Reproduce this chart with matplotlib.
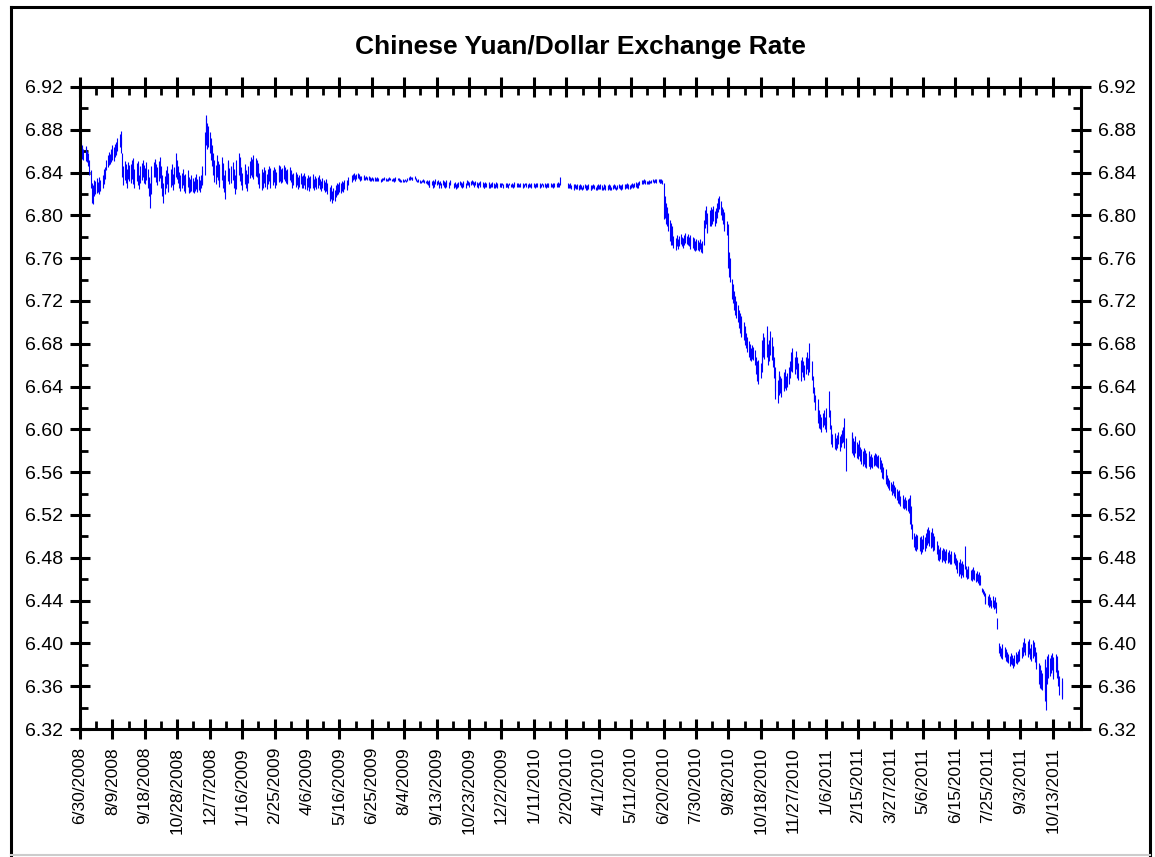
import numpy as np
import pandas as pd
import matplotlib
matplotlib.use("Agg")
import matplotlib.pyplot as plt
import matplotlib.dates as mdates
from matplotlib.lines import Line2D
from matplotlib.ticker import MultipleLocator, FixedLocator

plt.rcParams['font.family'] = ['Liberation Sans', 'DejaVu Sans']

# daily high/low quotes, thousandths above 6.000 ("hi/lo"), one string per month,
# one token per weekday of that month; "-" means no quote that day
hl_2008 = [  # Jun..Dec
    "866/855",
    "868/858 864/853 866/855 862/852 865/856 863/851 860/850 858/846 852/838 842/826 830/812 828/811 833/818 832/820 835/821 831/822 834/820 836/822 833/823 838/826 840/829 843/832 845/834",
    "852/842 856/845 859/847 857/848 862/850 866/852 864/851 867/855 869/858 866/856 872/860 876/864 879/866 873/858 858/836 846/828 851/833 848/830 843/826 850/834 847/832",
    "848/830 852/834 854/836 846/829 843/826 849/832 851/835 845/828 838/825 846/830 849/833 852/836 847/830 844/829 850/833 843/826 836/818 830/807 838/820 846/830 850/836 853/838",
    "852/836 848/831 845/828 851/832 855/835 846/826 838/818 830/812 837/820 842/826 846/829 840/824 836/822 843/827 848/831 844/828 839/824 845/829 858/836 852/834 846/830 841/826 838/823",
    "840/826 843/828 838/823 835/821 839/824 842/827 836/822 833/821 834/822 838/823 835/822 832/821 836/823 839/825 834/822 837/824 833/822 838/826 846/830 842/828",
    "878/838 894/868 891/866 886/862 884/864 878/858 872/852 866/846 858/838 852/831 847/829 856/836 851/833 845/827 848/830 855/833 849/830 843/826 838/822 842/815 852/834 850/832 844/829",
]
hl_2009 = [
    "- 846/830 850/833 843/826 838/820 842/825 852/834 858/838 855/836 849/832 845/828 840/824 844/829 848/832 842/826 839/823 846/830 851/835 855/838 853/836 849/834 856/837",
    "854/837 852/836 849/833 844/829 840/826 843/828 838/824 841/826 845/830 842/827 839/825 843/829 846/832 844/830 840/826 842/828 845/831 843/829 839/826 841/828",
    "845/831 847/833 846/832 843/830 844/831 847/834 845/832 842/830 840/829 843/831 845/833 842/831 839/829 837/826 840/828 838/827 841/829 839/828 836/825 838/827 840/829 837/826",
    "838/826 840/828 837/825 835/824 838/827 836/825 834/823 837/826 839/828 836/826 834/824 837/827 835/825 836/826 838/828 834/825 832/823 835/826 833/824 831/822 834/825 832/823",
    "830/820 827/816 825/813 828/815 823/812 826/814 824/813 828/817 830/819 829/820 831/822 830/821 832/823 829/822 831/823 833/825 831/824 833/826 836/828 - -",
    "838/831 839/833 840/834 838/832 839/834 840/835 839/834 837/833 836/832 837/833 838/834 837/833 836/833 837/834 836/833 837/833 836/832 835/832 836/833 835/832 836/832 835/832",
    "835/832 836/833 835/832 834/831 835/832 834/832 835/833 836/833 835/832 834/832 835/832 836/833 835/833 834/832 835/832 834/831 835/832 836/832 835/833 834/832 835/832 834/831 833/831",
    "834/831 833/831 834/832 833/831 835/832 836/833 837/833 836/834 835/833 836/833 837/834 835/833 834/832 833/831 834/831 833/830 832/830 833/831 834/831 833/830 832/830",
    "833/829 832/828 833/827 831/827 832/828 833/828 831/826 832/827 834/829 832/828 833/829 831/826 832/828 830/826 833/828 832/827 831/826 833/829 832/827 831/826 832/828 833/829",
    "- - 830/826 831/827 829/825 830/826 831/827 832/828 831/827 830/826 832/828 831/827 830/826 832/828 833/829 832/828 831/827 832/828 833/829 832/828 831/827 832/828",
    "831/827 830/826 831/828 832/828 830/827 831/827 830/826 829/826 831/827 830/827 831/828 830/826 829/826 830/827 831/827 830/826 829/826 831/827 830/827 829/826 830/827",
    "830/827 829/827 830/828 829/826 830/827 829/827 830/827 829/826 830/828 829/827 830/827 829/826 830/827 831/828 830/827 829/827 830/828 829/827 830/827 829/826 830/827 829/827 830/828",
]
hl_2010 = [
    "830/827 829/826 830/827 829/827 830/827 829/826 830/827 829/826 830/828 829/827 830/827 829/826 830/827 829/827 830/828 829/827 830/827 829/826 830/827 829/827 830/827",
    "830/827 829/827 830/828 829/826 830/827 829/827 830/828 831/827 830/827 836/828 - - - - - 830/826 829/826 830/827 829/826 828/825",
    "829/825 828/824 829/826 828/825 829/825 828/824 829/825 828/825 827/824 828/825 829/826 828/824 827/824 828/825 829/825 828/824 827/824 828/825 829/826 828/825 827/824 828/824 829/825",
    "828/825 829/825 828/824 827/824 828/825 829/826 828/824 827/824 828/825 829/825 828/824 827/824 828/825 829/826 828/825 827/824 828/825 829/826 828/825 827/824 828/825 829/825",
    "829/826 828/825 829/826 830/826 829/825 828/825 829/826 830/827 829/826 830/827 831/827 830/826 829/826 831/828 832/828 833/829 832/829 833/830 834/830 833/829 832/829",
    "832/829 833/829 832/830 833/830 834/831 833/830 834/831 833/831 834/830 834/831 833/830 834/830 834/830 833/829 830/797 818/798 812/792 808/790 802/785 796/776 793/772 790/776",
    "785/772 781/770 779/768 782/771 780/772 778/769 781/771 783/773 780/771 779/770 782/772 784/774 781/773 783/772 780/771 779/769 782/772 780/770 777/768 779/770 776/767 778/768",
    "777/768 775/767 778/769 774/766 776/765 796/772 805/788 809/792 802/785 798/784 805/790 808/794 803/790 806/792 809/795 804/790 807/793 812/798 816/803 818/806 813/800 808/796",
    "806/792 803/788 801/785 795/782 792/779 780/751 766/742 760/738 741/722 736/718 729/712 725/707 720/704 716/700 712/695 709/690 706/688 703/686 700/684 697/681 694/679 690/676",
    "686/672 683/668 680/665 676/664 679/666 677/665 674/660 668/652 664/645 660/642 665/646 662/648 672/654 684/662 690/668 686/666 697/674 688/668 680/660 684/664 692/670",
    "686/665 678/658 668/648 658/636 650/628 646/625 652/632 655/636 650/634 648/630 654/638 652/636 656/639 650/637 653/640 658/642 664/648 672/655 676/658 670/654 668/652 673/656",
    "668/652 664/648 662/646 658/645 665/650 668/654 664/649 660/646 668/652 672/656 667/651 670/654 681/660 664/646 650/634 640/627 636/626 632/618 628/612 622/606 618/601 614/600 612/598",
]
hl_2011 = [  # Jan..Oct
    "615/602 618/604 612/600 608/598 620/604 636/612 618/600 604/592 598/586 596/584 594/582 597/585 592/581 595/583 598/586 594/580 596/584 599/587 602/588 611/583 592/561",
    "- - - - 596/578 598/582 592/576 589/574 594/578 588/573 586/572 590/575 584/570 582/568 580/566 583/568 579/565 581/567 578/564 580/566",
    "578/566 575/563 577/565 574/564 576/566 578/567 577/566 575/565 576/564 574/563 571/560 569/558 566/555 565/554 563/552 560/549 557/547 555/545 553/543 551/542 549/539 552/541 548/538",
    "546/536 544/534 542/531 540/530 543/532 538/528 536/527 539/528 535/526 537/527 534/525 535/524 536/522 539/512 528/507 512/498 503/490 500/487 502/489 498/486 501/488",
    "499/486 497/484 500/487 498/485 501/488 499/486 503/489 507/492 509/494 506/491 504/489 508/490 503/488 498/486 500/487 496/484 492/481 489/478 488/477 490/479 487/476 489/478",
    "488/477 486/475 488/478 485/475 487/476 484/474 486/475 483/474 485/475 482/473 484/474 480/470 478/466 476/463 479/465 475/461 477/464 474/462 491/470 472/462 470/460 472/461",
    "471/461 469/459 470/460 468/458 471/460 469/459 466/457 468/458 465/456 467/455 464/455 452/448 451/446 449/444 447/438 445/437 444/436 442/434 446/437 443/435 441/433",
    "444/434 441/432 443/433 439/428 424/413 400/391 398/388 396/386 399/390 394/385 397/387 393/384 395/385 392/383 390/382 388/379 391/381 389/380 386/377 389/379 392/382 390/381 393/383",
    "395/385 392/384 397/386 399/388 401/390 405/392 400/389 398/387 402/388 404/390 396/385 399/384 403/386 401/388 397/383 392/380 388/376 382/362 376/358 380/360 375/357 372/356",
    "384/355 385/346 378/338 388/362 390/368 386/370 389/372 391/375 387/370 384/367 390/373 388/371 382/368 375/360 370/352 368/350 365/348",
]

first_day = pd.Timestamp("2008-06-30")
last_day = pd.Timestamp("2011-10-25")

############ unpack the monthly strings ##############
dates, highs, lows = [], [], []
for year, months, m0 in [(2008, hl_2008, 6), (2009, hl_2009, 1),
                         (2010, hl_2010, 1), (2011, hl_2011, 1)]:
    for k, month_str in enumerate(months):
        start = pd.Timestamp(year, m0 + k, 1)
        days = pd.bdate_range(start, start + pd.offsets.MonthEnd(0))
        days = days[(days >= first_day) & (days <= last_day)]
        for d, tok in zip(days, month_str.split()):
            if tok == "-":
                continue
            hi, lo = tok.split("/")
            dates.append(d)
            highs.append(6 + int(hi) / 1000)
            lows.append(6 + int(lo) / 1000)

x = mdates.date2num(pd.DatetimeIndex(dates).to_pydatetime())

############ plot ##############
W, H = 1155, 857
fig = plt.figure(figsize=(W / 100, H / 100), dpi=100)
ax = fig.add_axes([80 / W, 1 - 729 / H, (1081 - 80) / W, (729 - 87) / H])

ax.vlines(x, lows, highs, color='#0000ff', linewidth=0.8)

x0 = mdates.date2num(first_day.to_pydatetime())
ax.set_xlim(x0, x0 + 1235)
ax.set_ylim(6.32, 6.92)

major_days = [first_day + pd.Timedelta(days=40 * i) for i in range(31)]
ax.xaxis.set_major_locator(FixedLocator([x0 + 40 * i for i in range(31)]))
ax.xaxis.set_minor_locator(FixedLocator([x0 + 20 + 40 * i for i in range(31)]))
ax.set_xticklabels([f"{d.month}/{d.day}/{d.year}" for d in major_days],
                   rotation=90, fontsize=12.5)

ax.yaxis.set_major_locator(MultipleLocator(0.04))
ax.yaxis.set_minor_locator(MultipleLocator(0.02))
ax.yaxis.set_major_formatter(matplotlib.ticker.FormatStrFormatter('%.2f'))

ax.tick_params(which='major', direction='inout', length=14, width=2.2,
               top=True, right=True, labelright=True)
ax.tick_params(axis='x', which='major', pad=6, labelsize=12.5)
ax.tick_params(axis='y', which='major', pad=5, labelsize=14)
ax.tick_params(which='minor', direction='in', length=6, width=2.0,
               top=True, right=True)
for sp in ax.spines.values():
    sp.set_linewidth(2.2)

fig.text(580 / W, 1 - 47 / H, "Chinese Yuan/Dollar Exchange Rate",
         ha='center', va='center', fontsize=19, fontweight='bold')

# frame around the whole chart
fx = lambda px: px / W
fy = lambda py: 1 - py / H
fig.add_artist(Line2D([fx(11), fx(11)], [fy(7), fy(855)], color='black', lw=2.2))
fig.add_artist(Line2D([fx(11), fx(1150)], [fy(7), fy(7)], color='black', lw=2.2))
fig.add_artist(Line2D([fx(1150), fx(1150)], [fy(7), fy(855)], color='black', lw=2.2))
fig.add_artist(Line2D([fx(11), fx(1150)], [fy(855), fy(855)], color='#cccccc', lw=1.5))

plt.savefig('out.png', dpi=100)
